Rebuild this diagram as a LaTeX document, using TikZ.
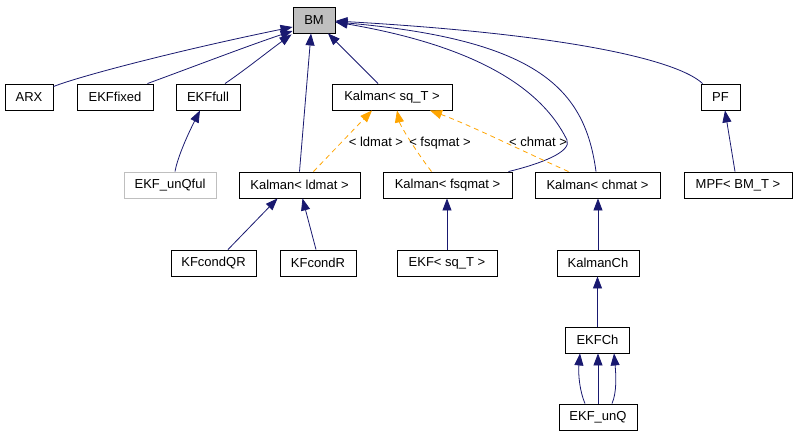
\documentclass[tikz,border=0pt]{standalone}
\usepackage{fontspec}
\setmainfont{Liberation Sans}
\usetikzlibrary{arrows.meta}
\definecolor{navy}{RGB}{25,25,112}
\definecolor{dorange}{RGB}{255,165,0}
\definecolor{bmgray}{RGB}{191,191,191}
\begin{document}
\begin{tikzpicture}[x=1pt,y=-1pt,
  box/.style={draw=black,line width=0.9pt,minimum height=26pt,inner sep=0pt,font=\fontsize{13}{15}\selectfont},
  inh/.style={draw=navy,line width=0.8pt,-{Triangle[length=12pt,width=9pt,fill=navy]}},
  tmpl/.style={draw=dorange,line width=0.8pt,dash pattern=on 5pt off 4pt,-{Triangle[length=12pt,width=9pt,fill=dorange]}},
  lbl/.style={font=\fontsize{13}{15}\selectfont,inner sep=0pt,anchor=base}]
\useasboundingbox (0,0) rectangle (796,435);
\fill[white] (0,0) rectangle (796,435);
% nodes
\node[box,fill=bmgray,minimum width=42pt] (BM) at (314,20) {BM};
\node[box,minimum width=48pt] (ARX) at (29,97) {ARX};
\node[box,minimum width=76pt] (EKFfixed) at (115,97) {EKFfixed};
\node[box,minimum width=64pt] (EKFfull) at (208,97) {EKFfull};
\node[box,minimum width=120pt] (Ksq) at (392,97) {Kalman< sq\_T >};
\node[box,minimum width=39pt] (PF) at (720.5,97) {PF};
\node[box,draw=bmgray,minimum width=92pt] (EKFunQful) at (170,185) {EKF\_unQful};
\node[box,minimum width=121pt] (Kld) at (299.5,185) {Kalman< ldmat >};
\node[box,minimum width=129pt] (Kfsq) at (447.5,185) {Kalman< fsqmat >};
\node[box,minimum width=125pt] (Kch) at (597.5,185) {Kalman< chmat >};
\node[box,minimum width=108pt] (MPF) at (738,185) {MPF< BM\_T >};
\node[box,minimum width=85pt] (KFcondQR) at (213.5,263) {KFcondQR};
\node[box,minimum width=76pt] (KFcondR) at (318,263) {KFcondR};
\node[box,minimum width=100pt] (EKFsq) at (447,263) {EKF< sq\_T >};
\node[box,minimum width=82pt] (KalmanCh) at (598,263) {KalmanCh};
\node[box,minimum width=64pt] (EKFCh) at (597.5,340) {EKFCh};
\node[box,minimum width=78pt] (EKFunQ) at (598,417) {EKF\_unQ};
% inheritance edges to BM
\draw[inh] ([yshift=-3pt]ARX.north east) .. controls (80,76) and (180,50) .. ([yshift=-7pt]BM.west);
\draw[inh] ([xshift=-6pt]EKFfixed.north east) .. controls (190,68) and (250,45) .. ([yshift=-11pt]BM.west);
\draw[inh] ([xshift=17pt]EKFfull.north) .. controls (245,70) and (270,50) .. ([xshift=-1pt,yshift=-1pt]BM.south west);
\draw[inh] (Kld.north) -- ([xshift=-3pt]BM.south);
\draw[inh] ([xshift=-14pt]Ksq.north) -- ([xshift=14pt]BM.south);
\draw[inh] ([xshift=-4pt]Kfsq.north east) .. controls (540,164) and (572,152) .. (567,140) .. controls (540,85) and (470,45) .. ([yshift=-2pt]BM.east);
\draw[inh] ([xshift=-1.5pt]Kch.north) .. controls (585,90) and (540,40) .. ([yshift=-2pt]BM.east);
\draw[inh] ([xshift=2pt]PF.north west) .. controls (680,62) and (580,35) .. ([yshift=-1pt]BM.east);
% template edges
\draw[tmpl] ([xshift=14pt]Kld.north) -- ([xshift=-20pt]Ksq.south);
\draw[tmpl] ([xshift=-16pt]Kfsq.north) .. controls (415,150) and (400,125) .. ([xshift=5pt]Ksq.south);
\draw[tmpl] ([xshift=-29pt]Kch.north) .. controls (520,150) and (470,125) .. ([xshift=38pt]Ksq.south);
\node[lbl] (lld) at (376,146.5) {< ldmat >};
\node[lbl] (lfs) at (440,146.5) {< fsqmat >};
\node[lbl] (lch) at (538,146.5) {< chmat >};
% lower edges
\draw[inh] ([xshift=5pt]EKFunQful.north) .. controls (177,160) and (185,140) .. ([xshift=-8pt]EKFfull.south);
\draw[inh] ([xshift=14.5pt]KFcondQR.north) -- ([xshift=-22pt]Kld.south);
\draw[inh] ([xshift=-2pt]KFcondR.north) -- ([xshift=3pt]Kld.south);
\draw[inh] (EKFsq.north) -- (EKFsq.north |- Kfsq.south);
\draw[inh] (KalmanCh.north) -- (KalmanCh.north |- Kch.south);
\draw[inh] (EKFCh.north) -- (EKFCh.north |- KalmanCh.south);
\draw[inh] (EKFunQ.north) -- (EKFunQ.north |- EKFCh.south);
\draw[inh] ([xshift=-13pt]EKFunQ.north) .. controls (580,392) and (578,375) .. ([xshift=-17.5pt]EKFCh.south);
\draw[inh] ([xshift=14pt]EKFunQ.north) .. controls (617,392) and (616,375) .. ([xshift=16.5pt]EKFCh.south);
\draw[inh] ([xshift=-3pt]MPF.north) -- ([xshift=4.5pt]PF.south);
\end{tikzpicture}
\end{document}
